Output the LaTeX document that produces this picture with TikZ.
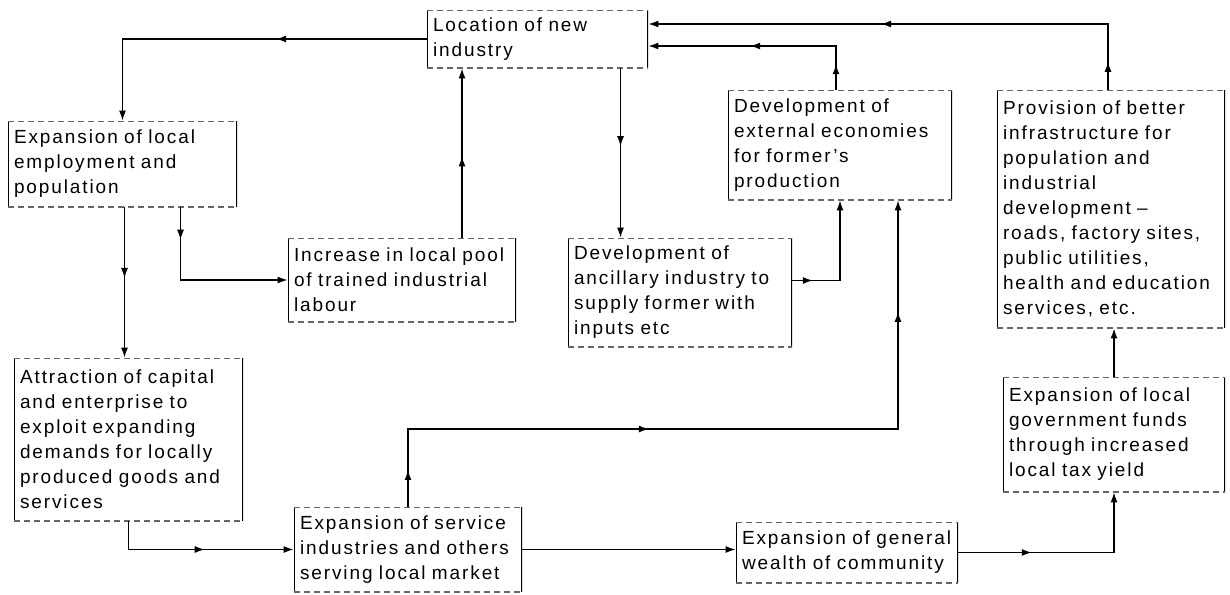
\documentclass[tikz,border=0pt]{standalone}
\usepackage{fontspec}
\setmainfont{Liberation Sans}[LetterSpace=10]
\usetikzlibrary{arrows.meta,decorations.markings}

\tikzset{
  box/.style = {inner xsep=3pt, inner ysep=2pt, align=left,
    font=\fontsize{9.5}{12.5}\selectfont,
    path picture={
      \draw[line width=1.4pt] (path picture bounding box.north west) -- (path picture bounding box.south west)
        (path picture bounding box.north east) -- (path picture bounding box.south east);
      \draw[line width=1pt, densely dashed, black!60] (path picture bounding box.north west) -- (path picture bounding box.north east)
        (path picture bounding box.south west) -- (path picture bounding box.south east);}},
  flow/.style = {line width=0.7pt, -{Latex[length=5pt,width=3.5pt]}},
  midtip/.style = {postaction={decorate, decoration={markings,
    mark=at position #1 with {\arrow{Latex[length=5pt,width=3.5pt]}}}}}
}

\begin{document}
\begin{tikzpicture}[x=0.5pt, y=-0.5pt]
  \useasboundingbox (0,0) rectangle (1230,594);

  \node[box, text width=104.5pt, minimum height=29pt] (loc) at (537.5,39) {Location of new\\industry};
  \node[box, text width=108.5pt, minimum height=43pt] (emp) at (122.5,164) {Expansion of local\\employment and\\population};
  \node[box, text width=108pt, minimum height=42pt] (pool) at (402,280) {Increase in local pool\\of trained industrial\\labour};
  \node[box, text width=106pt, minimum height=54.5pt] (anc) at (680,292.5) {Development of\\ancillary industry to\\supply former with\\inputs etc};
  \node[box, text width=106pt, minimum height=55pt] (ext) at (840,145) {Development of\\external economies\\for former's\\production};
  \node[box, text width=108pt, minimum height=119pt] (infra) at (1111,209) {Provision of better\\infrastructure for\\population and\\industrial\\development --\\roads, factory sites,\\public utilities,\\health and education\\services, etc.};
  \node[box, text width=105pt, minimum height=57.5pt] (govt) at (1114,434.5) {Expansion of local\\government funds\\through increased\\local tax yield};
  \node[box, text width=105pt, minimum height=30.5pt] (wealth) at (847,552.5) {Expansion of general\\wealth of community};
  \node[box, text width=108pt, minimum height=42.5pt] (service) at (408,549.5) {Expansion of service\\industries and others\\serving local market};
  \node[box, text width=108.5pt, minimum height=81.5pt] (attr) at (128.5,439.5) {Attraction of capital\\and enterprise to\\exploit expanding\\demands for locally\\produced goods and\\services};

  \coordinate (turn) at (898,429);

  \draw[flow, midtip=0.39] (loc.west) -| (emp.north);
  \draw[flow, midtip=0.47] ([xshift=1pt]emp.south) -- ([xshift=1pt]emp.south |- attr.north);
  \draw[flow, midtip=0.18] ([xshift=29pt]emp.south) |- (pool.west);
  \draw[flow, midtip=0.48] ([xshift=30pt]pool.north) -- ([xshift=30pt]pool.north |- loc.south);
  \draw[flow, midtip=0.46] ([xshift=41.5pt]loc.south) -- ([xshift=41.5pt]loc.south |- anc.north);
  \draw[flow, midtip=0.16] ([yshift=6pt]anc.east) -| (ext.south);
  \draw[flow, midtip=0.11, midtip=0.56] ([xshift=-2pt]ext.north) |- ([yshift=-3.5pt]loc.east);
  \draw[flow, midtip=0.053, midtip=0.557] ([xshift=-1.5pt]infra.north) |- ([yshift=7.5pt]loc.east);
  \draw[flow] (govt.north) -- (govt.north |- infra.south);
  \draw[flow, midtip=0.34] (wealth.east) -| (govt.south);
  \draw[flow] (service.east) -- (service.east -| wealth.west);
  \draw[flow, midtip=0.54] (attr.south) |- (service.west);
  \draw[flow, midtip=0.046, midtip=0.40, midtip=0.86] (service.north) |- (turn) -- ([xshift=29pt]ext.south);
\end{tikzpicture}
\end{document}
